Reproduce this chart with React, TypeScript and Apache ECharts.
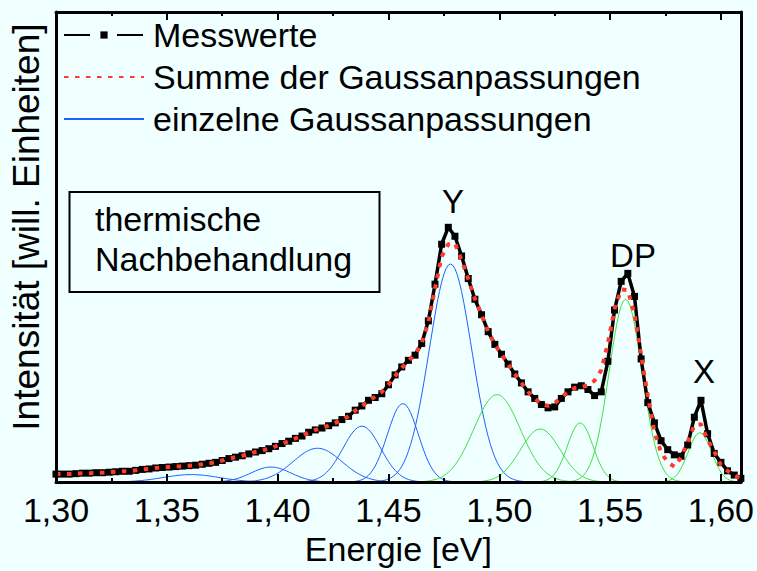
import React, { useEffect, useRef } from "react";
import * as echarts from "echarts";

const FONT = "'Liberation Sans', Arial, Helvetica, sans-serif";

// Messraster: 1,300 eV bis 1,609 eV in Schritten von 0,003 eV
const E_START = 1.3;
const E_STEP = 0.003;

// Messwerte (willkürliche Einheiten)
const messwerte = [
  1.7, 1.7, 1.7, 1.8, 1.9, 1.9, 2.0, 2.0, 2.1, 2.2,
  2.3, 2.3, 2.5, 2.7, 2.8, 3.0, 3.1, 3.2, 3.3, 3.4,
  3.5, 3.6, 3.8, 4.0, 4.2, 4.6, 5.0, 5.3, 5.6, 6.0,
  6.4, 6.7, 7.1, 7.6, 8.2, 8.7, 9.3, 9.8, 10.6, 11.1,
  11.5, 12.0, 12.6, 13.3, 14.0, 15.3, 16.2, 17.4, 18.0, 18.8,
  20.7, 22.8, 24.5, 25.9, 27.0, 29.5, 34.3, 42.1, 50.6, 54.2,
  52.3, 48.1, 43.3, 38.9, 35.6, 32.0, 29.3, 27.2, 25.1, 23.0,
  21.1, 19.2, 17.8, 16.5, 15.8, 16.0, 17.8, 19.2, 20.2, 20.5,
  19.7, 18.4, 19.2, 25.7, 36.6, 42.7, 44.4, 39.5, 26.2, 16.9,
  12.6, 8.8, 6.9, 5.8, 5.5, 7.9, 13.8, 17.4, 10.3, 6.1,
  4.2, 2.4, 1.5, 0.8,
];

// Summe der Gaussanpassungen auf demselben Raster
const summe = [
  1.7, 1.7, 1.7, 1.8, 1.9, 1.9, 2.0, 2.0, 2.1, 2.2,
  2.3, 2.3, 2.5, 2.7, 2.8, 3.0, 3.1, 3.2, 3.3, 3.4,
  3.5, 3.6, 3.8, 4.0, 4.2, 4.6, 5.0, 5.3, 5.6, 6.0,
  6.4, 6.7, 7.1, 7.6, 8.2, 8.7, 9.3, 9.8, 10.6, 11.1,
  11.5, 12.0, 12.6, 13.3, 14.0, 15.2, 16.2, 17.2, 18.2, 19.2,
  20.7, 22.6, 24.3, 25.8, 27.2, 29.6, 34.0, 41.2, 48.0, 50.6,
  50.8, 47.2, 43.2, 39.0, 35.6, 32.0, 29.3, 27.2, 25.1, 23.0,
  21.1, 19.2, 17.8, 16.6, 16.2, 16.8, 18.0, 19.3, 20.0, 20.2,
  20.6, 21.6, 23.8, 29.5, 36.8, 41.0, 40.8, 35.8, 27.0, 18.4,
  10.7, 6.3, 4.2, 3.3, 5.2, 8.6, 12.1, 12.3, 9.0, 6.5,
  3.6, 2.4, 1.4, 0.8,
];

// Einzelne Gaussanpassungen: Zentrum [eV], Amplitude, Breite sigma [eV]
const gaussZentren = [1.361, 1.397, 1.418, 1.438, 1.4565, 1.478, 1.499, 1.5185, 1.5365, 1.557, 1.5905];
const gaussAmplituden = [1.6, 3.2, 7.2, 11.9, 16.7, 46.4, 18.6, 11.3, 12.6, 38.9, 10.5];
const gaussBreiten = [0.0127, 0.009, 0.011, 0.0085, 0.007, 0.0096, 0.0105, 0.009, 0.0058, 0.0074, 0.0053];
const gaussFarben = [
  "#1f5fff", "#1f5fff", "#1f5fff", "#1f5fff", "#1f5fff", "#1f5fff",
  "#3fe03f", "#3fe03f", "#3fe03f", "#3fe03f", "#3fe03f",
];

// Achsenbeschriftung
const xTickWerte = [1.3, 1.35, 1.4, 1.45, 1.5, 1.55, 1.6];
const xTickTexte = ["1,30", "1,35", "1,40", "1,45", "1,50", "1,55", "1,60"];
const X_MIN = 1.3;
const X_MAX = 1.609;

// Peak-Bezeichnungen
const peakNamen = ["Y", "DP", "X"];

const LEGENDE = ["Messwerte", "Summe der Gaussanpassungen", "einzelne Gaussanpassungen"];

function gaussKurve(z: number, a: number, s: number): number[][] {
  const pts: number[][] = [];
  for (let i = 0; i <= 309; i++) {
    const e = +(X_MIN + i * 0.001).toFixed(4);
    pts.push([e, a * Math.exp(-((e - z) * (e - z)) / (2 * s * s))]);
  }
  return pts;
}

export default function App() {
  const ref = useRef<HTMLDivElement>(null);

  useEffect(() => {
    if (!ref.current) return;
    const chart = echarts.init(ref.current, null, { renderer: "svg" });

    const messPunkte = messwerte.map((v, i) => [+(E_START + i * E_STEP).toFixed(4), v]);
    const summePunkte = summe.map((v, i) => [+(E_START + i * E_STEP).toFixed(4), v]);

    const gaussSerien = gaussZentren.map((z, i) => ({
      name: LEGENDE[2],
      type: "line",
      data: gaussKurve(z, gaussAmplituden[i], gaussBreiten[i]),
      symbol: "none",
      silent: true,
      z: 1,
      lineStyle: { color: gaussFarben[i], width: 1 },
      itemStyle: { color: gaussFarben[i] },
    }));

    const tickLabel = (v: number) => {
      const idx = xTickWerte.findIndex((t) => Math.abs(t - v) < 1e-6);
      return idx >= 0 ? xTickTexte[idx] : "";
    };

    const hauptAchse = (pos: "top" | "bottom", labels: boolean) => ({
      type: "value",
      position: pos,
      min: X_MIN,
      max: X_MAX,
      interval: 0.05,
      z: 10,
      axisLine: { show: true, onZero: false, lineStyle: { color: "#000", width: 3 } },
      axisTick: { show: true, inside: true, length: 8, lineStyle: { color: "#000", width: 2 } },
      axisLabel: {
        show: labels,
        fontSize: 34,
        fontFamily: FONT,
        color: "#000",
        margin: 11,
        showMaxLabel: false,
        formatter: tickLabel,
      },
      splitLine: { show: false },
      name: labels ? "Energie [eV]" : "",
      nameLocation: "middle",
      nameGap: 45,
      nameTextStyle: { fontSize: 34, fontFamily: FONT, color: "#000" },
    });

    const nebenAchse = (pos: "top" | "bottom") => ({
      type: "value",
      position: pos,
      min: X_MIN,
      max: X_MAX,
      interval: 0.025,
      z: 10,
      axisLine: { show: false, onZero: false },
      axisTick: { show: true, inside: true, length: 4, lineStyle: { color: "#000", width: 2 } },
      axisLabel: { show: false },
      splitLine: { show: false },
    });

    chart.setOption({
      animation: false,
      backgroundColor: "#f0ffff",
      textStyle: { fontFamily: FONT },
      grid: { left: 56, right: 13, top: 12, bottom: 80, containLabel: false },
      xAxis: [hauptAchse("bottom", true), hauptAchse("top", false), nebenAchse("top"), nebenAchse("bottom")],
      yAxis: [
        {
          type: "value",
          position: "left",
          min: 0,
          max: 100,
          z: 10,
          axisLine: { show: true, lineStyle: { color: "#000", width: 3 } },
          axisTick: { show: false },
          axisLabel: { show: false },
          splitLine: { show: false },
          name: "Intensität [will. Einheiten]",
          nameLocation: "middle",
          nameGap: 11,
          nameTextStyle: { fontSize: 37, fontFamily: FONT, color: "#000", padding: [0, 0, 0, 40] },
        },
        {
          type: "value",
          position: "right",
          min: 0,
          max: 100,
          z: 10,
          axisLine: { show: true, lineStyle: { color: "#000", width: 3 } },
          axisTick: { show: false },
          axisLabel: { show: false },
          splitLine: { show: false },
        },
      ],
      legend: {
        orient: "vertical",
        left: 63,
        top: 18,
        padding: 0,
        itemWidth: 80,
        itemHeight: 9,
        itemGap: 8,
        selectedMode: false,
        textStyle: { fontSize: 34, fontFamily: FONT, color: "#000", padding: [0, 0, 0, 4] },
        data: [
          { name: LEGENDE[0], lineStyle: { type: [26, 27] } },
          { name: LEGENDE[1], itemStyle: { opacity: 0 } },
          { name: LEGENDE[2], itemStyle: { opacity: 0 } },
        ],
      },
      graphic: [
        {
          type: "rect",
          shape: { x: 69.5, y: 192, width: 310, height: 100 },
          style: { fill: "none", stroke: "#000", lineWidth: 2 },
          z: 20,
        },
        {
          type: "text",
          x: 95,
          y: 219,
          style: { text: "thermische", font: `34px ${FONT}`, fill: "#000", verticalAlign: "middle" },
          z: 20,
        },
        {
          type: "text",
          x: 95,
          y: 259,
          style: { text: "Nachbehandlung", font: `34px ${FONT}`, fill: "#000", verticalAlign: "middle" },
          z: 20,
        },
        {
          type: "text",
          x: 453,
          y: 201,
          style: { text: peakNamen[0], font: `33px ${FONT}`, fill: "#000", align: "center", verticalAlign: "middle" },
          z: 20,
        },
        {
          type: "text",
          x: 633,
          y: 255,
          style: { text: peakNamen[1], font: `33px ${FONT}`, fill: "#000", align: "center", verticalAlign: "middle" },
          z: 20,
        },
        {
          type: "text",
          x: 704,
          y: 371,
          style: { text: peakNamen[2], font: `33px ${FONT}`, fill: "#000", align: "center", verticalAlign: "middle" },
          z: 20,
        },
      ],
      series: [
        ...gaussSerien,
        {
          name: LEGENDE[0],
          type: "line",
          data: messPunkte,
          symbol: "rect",
          symbolSize: 7,
          showSymbol: true,
          z: 2,
          lineStyle: { color: "#000", width: 3.5 },
          itemStyle: { color: "#000" },
        },
        {
          name: LEGENDE[1],
          type: "line",
          data: summePunkte,
          symbol: "none",
          z: 3,
          lineStyle: { color: "#ff3b2a", width: 4, type: [4.5, 6.5] },
          itemStyle: { color: "#ff3b2a" },
        },
      ],
    });

    return () => chart.dispose();
  }, []);

  return (
    <div
      ref={ref}
      style={{ position: "fixed", left: 0, top: 0, width: 757, height: 571 }}
    />
  );
}
